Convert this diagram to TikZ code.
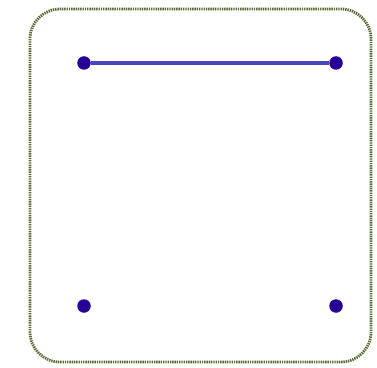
\documentclass[tikz,border=0pt]{standalone}
\usetikzlibrary{positioning}
\definecolor{framegreen}{RGB}{88,108,52}
\definecolor{dotblue}{RGB}{38,0,150}
\definecolor{lineblue}{RGB}{70,70,190}

\begin{document}
\begin{tikzpicture}[x=0.02cm, y=-0.02cm, thick]
        \useasboundingbox (0,0) rectangle (377,367);
        \draw[framegreen, line width=1.6pt, dash pattern=on 0.8pt off 0.5pt, rounded corners=0.6cm] (30,9) rectangle (371,362);

        \node[circle, fill=dotblue, inner sep=0pt, minimum size=0.27cm] (tl) at (84,63) {};
        \node[circle, fill=dotblue, inner sep=0pt, minimum size=0.27cm] (tr) at (336,63) {};
        \node[circle, fill=dotblue, inner sep=0pt, minimum size=0.27cm] (bl) at (84,306) {};
        \node[circle, fill=dotblue, inner sep=0pt, minimum size=0.27cm] (br) at (336,306) {};

        \draw[lineblue, line width=1.8pt] (tl) -- (tr);
    \end{tikzpicture}
\end{document}
